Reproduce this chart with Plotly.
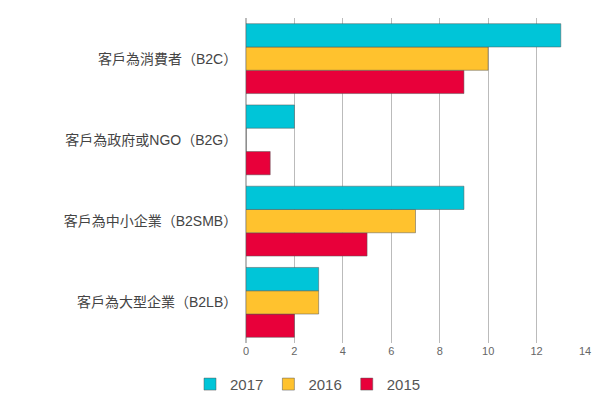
import plotly.graph_objects as go

categories = ["客戶為大型企業（B2LB）", "客戶為中小企業（B2SMB）", "客戶為政府或NGO（B2G）", "客戶為消費者（B2C）"]
v2015 = [2, 5, 1, 9]
v2016 = [3, 7, 0, 10]
v2017 = [3, 9, 2, 13]
series = [("2015", v2015, "#E8003A"), ("2016", v2016, "#FFC22E"), ("2017", v2017, "#00C5D8")]

fig = go.Figure()
for name, vals, col in series:
    fig.add_trace(go.Bar(y=categories, x=vals, name=name, orientation="h",
                         marker=dict(color=col, line=dict(color="#555555", width=0.5))))

fig.update_layout(
    width=600, height=405, barmode="group", bargap=0.14, bargroupgap=0,
    margin=dict(l=238, r=23, t=10, b=70, autoexpand=False),
    paper_bgcolor="white", plot_bgcolor="white",
    font=dict(family="Liberation Sans, Noto Sans CJK TC", color="#555555"),
    xaxis=dict(range=[0, 14], dtick=2, showgrid=True, gridcolor="#BBBBBB", gridwidth=1,
               zeroline=True, zerolinecolor="#BBBBBB", tickfont=dict(size=11, color="#666666"), ticks=""),
    yaxis=dict(tickfont=dict(size=14, color="#444444"), ticks="", ticksuffix="  ", automargin=False),
    legend=dict(orientation="h", xref="container", x=0.5, xanchor="center",
                yref="container", y=0.03, yanchor="bottom",
                traceorder="reversed", font=dict(size=15, color="#555555"),
                itemwidth=30),
)
fig.write_html("out.html")
